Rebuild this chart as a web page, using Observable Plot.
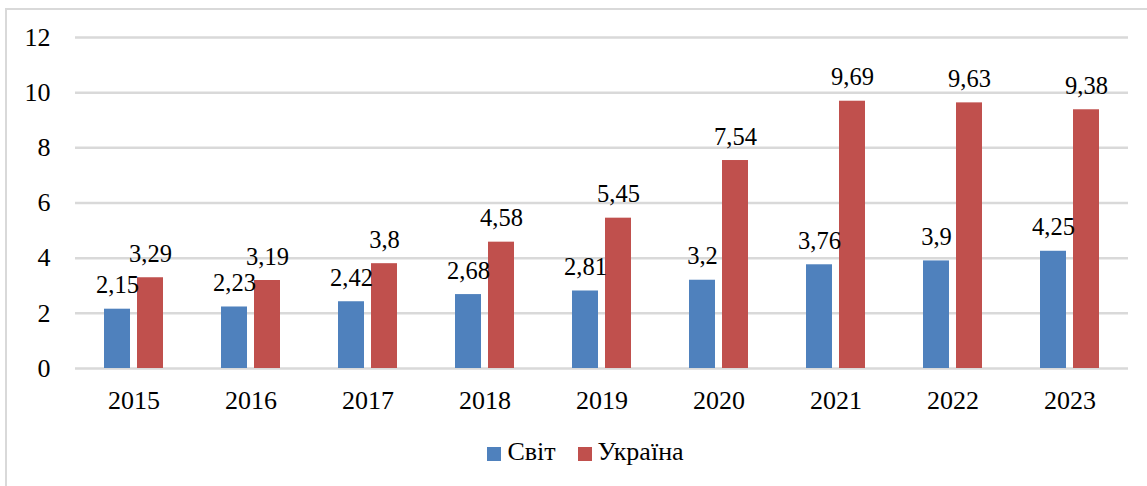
<!DOCTYPE html>
<html>
<head>
<meta charset="utf-8">
<script src="https://cdn.jsdelivr.net/npm/d3@7"></script>
<script src="https://cdn.jsdelivr.net/npm/@observablehq/plot@0.6"></script>
<style>
  html, body { margin: 0; padding: 0; background: #fff; width: 1147px; height: 486px; overflow: hidden; font-family: "Liberation Serif", serif; }
  #frame { position: absolute; left: 5px; top: 8px; width: 1160px; height: 500px; border: 2px solid #d9d9d9; box-sizing: border-box; }
  #chart { position: absolute; left: 0; top: 0; }
  #legend { position: absolute; left: 12px; width: 1147px; top: 437px; text-align: center; font-size: 26px; color: #000; font-family: "Liberation Serif", serif; }
  .item { display: inline-flex; align-items: center; margin: 0 11px; }
  .sw { display: inline-block; width: 14px; height: 14px; margin-right: 6px; margin-top: 3px; }
</style>
</head>
<body>
<div id="frame"></div>
<div id="chart"></div>
<div id="legend"></div>
<script>
const years = ["2015","2016","2017","2018","2019","2020","2021","2022","2023"];
const seriesNames = ["Світ", "Україна"];
const svit = [2.15, 2.23, 2.42, 2.68, 2.81, 3.2, 3.76, 3.9, 4.25];
const ukraine = [3.29, 3.19, 3.8, 4.58, 5.45, 7.54, 9.69, 9.63, 9.38];
const yTicks = [0, 2, 4, 6, 8, 10, 12];
const colors = ["#4F81BD", "#C0504D"];

const data = [];
years.forEach((y, i) => {
  data.push({year: y, series: seriesNames[0], value: svit[i]});
  data.push({year: y, series: seriesNames[1], value: ukraine[i]});
});
const fmt = v => String(v).replace(".", ",");

const plot = Plot.plot({
  width: 1147,
  height: 430,
  marginLeft: 73,
  marginRight: 17,
  marginTop: 37,
  marginBottom: 62,
  style: {fontFamily: "Liberation Serif", fontSize: "26px", color: "#000", background: "transparent"},
  fx: {domain: years, padding: 0, axis: "bottom", label: null, tickSize: 0, tickPadding: 22},
  x: {domain: seriesNames, axis: null, paddingInner: 0.21, paddingOuter: 0.86},
  y: {domain: [0, 12], ticks: yTicks, axis: null},
  color: {domain: seriesNames, range: colors},
  marks: [
    Plot.ruleY(yTicks, {stroke: "#d9d9d9", strokeWidth: 2.5}),
    Plot.barY(data, {fx: "year", x: "series", y: "value", fill: "series"}),
    Plot.text(data, {fx: "year", x: "series", y: "value", text: d => fmt(d.value), dy: -16, lineAnchor: "bottom", fill: "#000", fontSize: 24.5, fontFamily: "Liberation Serif"}),
    Plot.axisY({ticks: yTicks, tickSize: 0, tickPadding: 25, label: null, fontSize: 26, fontFamily: "Liberation Serif", facetAnchor: "left"})
  ]
});
document.getElementById("chart").appendChild(plot);

const legend = document.getElementById("legend");
seriesNames.forEach((s, i) => {
  const item = document.createElement("span");
  item.className = "item";
  const sw = document.createElement("span");
  sw.className = "sw";
  sw.style.background = colors[i];
  item.appendChild(sw);
  item.appendChild(document.createTextNode(s));
  legend.appendChild(item);
});
</script>
</body>
</html>
